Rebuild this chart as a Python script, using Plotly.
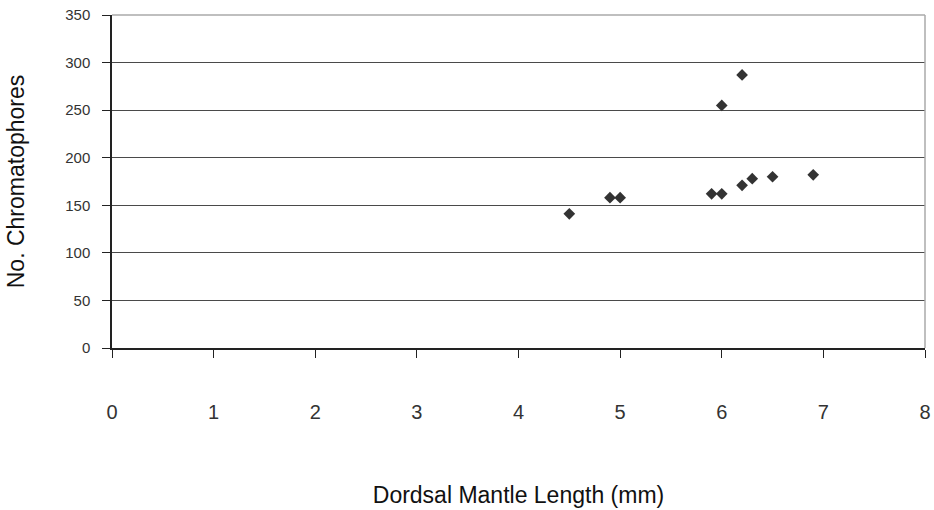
import plotly.graph_objects as go

length_mm = [4.5, 4.9, 5.0, 5.9, 6.0, 6.2, 6.3, 6.5, 6.9, 6.0, 6.2]
chromatophores = [141, 158, 158, 162, 162, 171, 178, 180, 182, 255, 287]

x_ticks = [0, 1, 2, 3, 4, 5, 6, 7, 8]
y_ticks = [0, 50, 100, 150, 200, 250, 300, 350]

font = "Liberation Sans, Arial, sans-serif"

fig = go.Figure()
fig.add_trace(go.Scatter(
    x=length_mm, y=chromatophores, mode="markers",
    marker=dict(symbol="diamond", size=9, color="#333333"),
    showlegend=False,
))

fig.update_layout(
    width=934, height=510,
    margin=dict(l=112, r=9, t=15, b=162),
    paper_bgcolor="white", plot_bgcolor="white",
    font=dict(family=font, color="#222222"),
    xaxis=dict(
        range=[0, 8], tickvals=x_ticks, showgrid=False, zeroline=False,
        showline=True, linecolor="#222222", linewidth=1.5,
        ticks="outside", ticklen=8, tickcolor="#222222",
        tickfont=dict(size=20, color="#333333"),
        ticklabelstandoff=37, automargin=False,
        title=dict(text="Dordsal Mantle Length (mm)", font=dict(size=23, color="#111111"), standoff=65),
    ),
    yaxis=dict(
        range=[0, 350], tickvals=y_ticks, showgrid=True, gridcolor="#4a4a4a", gridwidth=1,
        zeroline=False, showline=True, linecolor="#222222", linewidth=1.5,
        ticks="outside", ticklen=8, tickcolor="#222222",
        tickfont=dict(size=15, color="#333333"),
        ticklabelstandoff=9, automargin=False,
        title=dict(text="No. Chromatophores", font=dict(size=23, color="#111111"), standoff=34),
    ),
    shapes=[
        dict(type="line", xref="paper", yref="paper", x0=1, x1=1, y0=0, y1=1,
             line=dict(color="#aaaaaa", width=1.5)),
        dict(type="line", xref="paper", yref="paper", x0=0, x1=1, y0=1, y1=1,
             line=dict(color="#aaaaaa", width=1.5)),
    ],
)

fig.write_html("out.html", config={"displayModeBar": False},
               post_script="document.body.style.margin='0';document.body.style.overflow='hidden';")
